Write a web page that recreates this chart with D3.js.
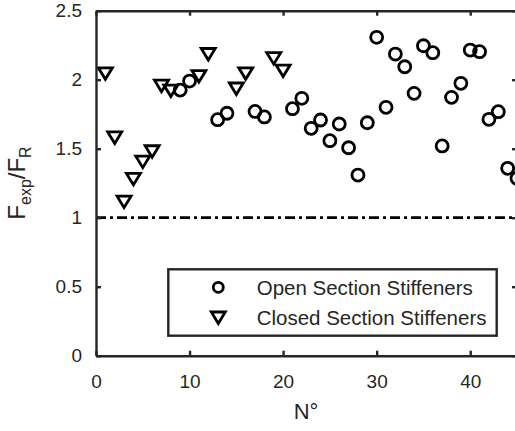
<!DOCTYPE html>
<html lang="en">
<head>
  <meta charset="UTF-8">
  <title>Fexp/FR scatter</title>
  <style>
    body { margin: 0; background: #fff; }
    svg { display: block; }
    text { font-family: "Liberation Sans", Arial, sans-serif; fill: #262626; }
  </style>
  <script src="https://d3js.org/d3.v7.min.js"></script>
</head>
<body>
  <svg width="515" height="431"></svg>

  <script>
    // dati: N = 1..45
    var openN = [9, 10, 13, 14, 17, 18, 21, 22, 23, 24, 25, 26, 27, 28, 29, 30, 31, 32, 33, 34, 35, 36, 37, 38, 39, 40, 41, 42, 43, 44, 45];
    var openVal = [1.925, 1.99, 1.71, 1.757, 1.77, 1.73, 1.79, 1.865, 1.648, 1.708, 1.558, 1.679, 1.507, 1.309, 1.688, 2.307, 1.80, 2.186, 2.094, 1.901, 2.246, 2.196, 1.52, 1.872, 1.974, 2.215, 2.203, 1.713, 1.768, 1.358, 1.285];
    var closedN = [1, 2, 3, 4, 5, 6, 7, 8, 11, 12, 15, 16, 19, 20];
    var closedVal = [2.05, 1.585, 1.12, 1.285, 1.41, 1.485, 1.96, 1.925, 2.03, 2.19, 1.94, 2.05, 2.16, 2.07];
    var xTicks = [0, 10, 20, 30, 40];
    var yTicks = [0, 0.5, 1, 1.5, 2, 2.5];
    var legendLabels = ["Open Section Stiffeners", "Closed Section Stiffeners"];

    var svg = d3.select("svg");
    var mLeft = 96, mRight = 517, mTop = 10.7, mBottom = 355.7;
    var axisColor = "#262626";

    var x = d3.scaleLinear().domain([0, 45]).range([mLeft, mRight]);
    var y = d3.scaleLinear().domain([0, 2.5]).range([mBottom, mTop]);

    var triPath = "M-7,-5 L7,-5 L0,6.5 Z";

    // linea di riferimento F = 1
    svg.append("line")
      .attr("x1", x(0)).attr("x2", x(45))
      .attr("y1", y(1)).attr("y2", y(1))
      .attr("stroke", "#000").attr("stroke-width", 2.8)
      .attr("stroke-dasharray", "10,4,3,4");

    // punti aperti
    svg.selectAll(".open")
      .data(openN.map(function(n, i) { return { n: n, v: openVal[i] }; }))
      .enter().append("circle")
      .attr("class", "open")
      .attr("cx", function(d) { return x(d.n); })
      .attr("cy", function(d) { return y(d.v); })
      .attr("r", 6)
      .attr("fill", "none").attr("stroke", "#000").attr("stroke-width", 2.8);

    // punti chiusi
    svg.selectAll(".closed")
      .data(closedN.map(function(n, i) { return { n: n, v: closedVal[i] }; }))
      .enter().append("path")
      .attr("class", "closed")
      .attr("d", triPath)
      .attr("transform", function(d) { return "translate(" + x(d.n) + "," + y(d.v) + ")"; })
      .attr("fill", "none").attr("stroke", "#000").attr("stroke-width", 2.8)
      .attr("stroke-linejoin", "miter");

    // assi
    function styleAxis(g) {
      g.selectAll("path, line").attr("stroke", axisColor).attr("stroke-width", 2.4);
      g.selectAll("text").attr("font-size", 19).attr("fill", "#333")
        .attr("font-family", "Liberation Sans, Arial, sans-serif");
    }

    svg.append("g")
      .attr("transform", "translate(0," + mBottom + ")")
      .call(d3.axisBottom(x).tickValues(xTicks).tickSizeInner(-5).tickSizeOuter(0).tickPadding(19))
      .call(styleAxis);

    svg.append("g")
      .attr("transform", "translate(" + mLeft + ",0)")
      .call(d3.axisLeft(y).tickValues(yTicks).tickSizeInner(-5).tickSizeOuter(0).tickPadding(14)
        .tickFormat(function(d) { return String(d); }))
      .call(styleAxis);

    svg.append("g")
      .attr("transform", "translate(0," + mTop + ")")
      .call(d3.axisTop(x).tickValues(xTicks).tickSizeInner(-5).tickSizeOuter(0).tickFormat(""))
      .call(styleAxis);

    svg.append("g")
      .attr("transform", "translate(" + mRight + ",0)")
      .call(d3.axisRight(y).tickValues(yTicks).tickSizeInner(-5).tickSizeOuter(0).tickFormat(""))
      .call(styleAxis);

    // etichette assi
    svg.append("text")
      .attr("x", 306).attr("y", 419)
      .attr("text-anchor", "middle").attr("font-size", 22).attr("fill", "#333")
      .text("N°");

    var yl = svg.append("text")
      .attr("transform", "translate(25,183) rotate(-90)")
      .attr("text-anchor", "middle").attr("font-size", 24).attr("fill", "#333");
    yl.append("tspan").text("F");
    yl.append("tspan").attr("font-size", 16).attr("dy", 6).text("exp");
    yl.append("tspan").attr("dy", -6).text("/F");
    yl.append("tspan").attr("font-size", 16).attr("dy", 6).text("R");

    // legenda
    var lg = svg.append("g");
    lg.append("rect")
      .attr("x", 168.3).attr("y", 269.3)
      .attr("width", 328.4).attr("height", 66.4)
      .attr("fill", "#fff").attr("stroke", axisColor).attr("stroke-width", 2.4);

    lg.append("circle")
      .attr("cx", 218.3).attr("cy", 287.3).attr("r", 5)
      .attr("fill", "none").attr("stroke", "#000").attr("stroke-width", 2.8);
    lg.append("path")
      .attr("d", triPath)
      .attr("transform", "translate(218.3,317)")
      .attr("fill", "none").attr("stroke", "#000").attr("stroke-width", 2.8);

    lg.selectAll(".lt")
      .data(legendLabels)
      .enter().append("text")
      .attr("class", "lt")
      .attr("x", 256.7)
      .attr("y", function(d, i) { return 294.5 + i * 30; })
      .attr("font-size", 20.5)
      .text(function(d) { return d; });
  </script>
</body>
</html>
